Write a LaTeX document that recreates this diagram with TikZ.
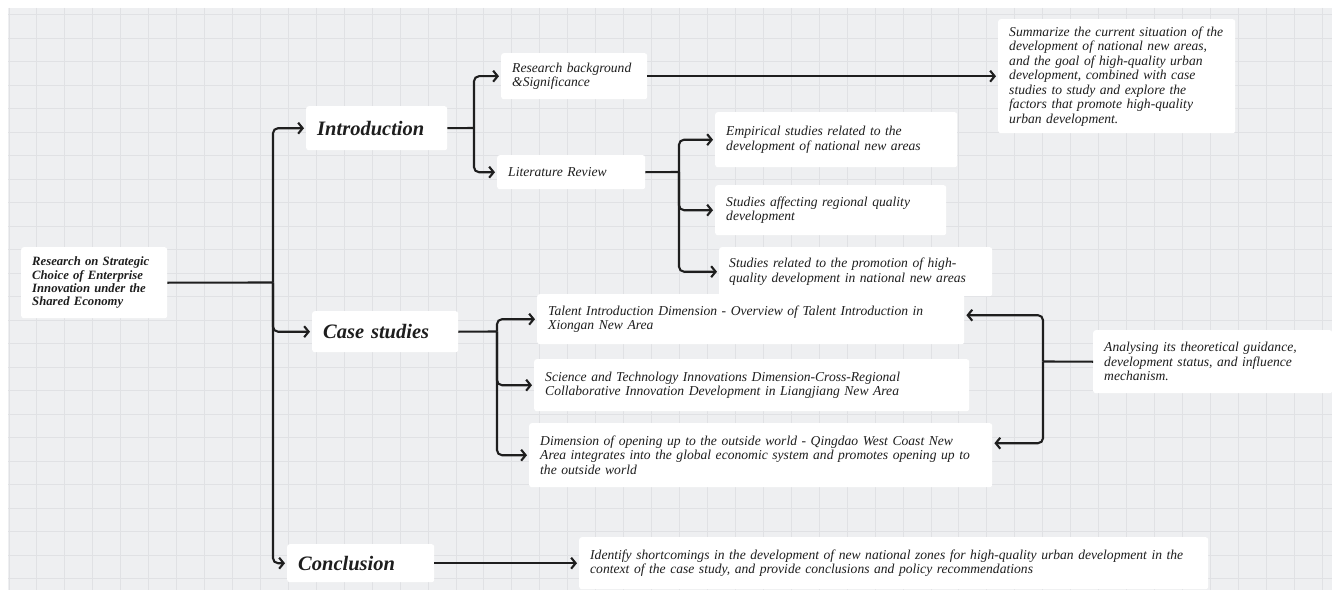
\documentclass[tikz,border=0pt]{standalone}
\usepackage{fontspec}
\setmainfont{Liberation Serif}
\usetikzlibrary{arrows.meta}
\definecolor{bggray}{RGB}{238,239,241}
\definecolor{gridc}{RGB}{224,225,228}
\definecolor{inkc}{RGB}{30,30,30}
\tikzset{
  bx/.style={fill=white, rounded corners=2.5pt, anchor=north west, inner xsep=11pt, inner ysep=0pt,
    align=left, text=inkc, font=\fontsize{13.6}{14.5}\selectfont\itshape},
  mainbx/.style={bx, font=\fontsize{20.5}{22}\selectfont\bfseries\itshape},
  rootbx/.style={bx, font=\fontsize{12.7}{13.3}\selectfont\bfseries\itshape},
  conn/.style={line width=2.1pt, draw=inkc, rounded corners=5pt},
  arr/.style={conn, -{Straight Barb[length=4.5pt,width=11pt]}, shorten >=2pt},
  gridline/.style={draw=gridc, line width=0.6pt}
}
\begin{document}
\begin{tikzpicture}[x=1pt,y=-1pt]
\useasboundingbox (0,0) rectangle (1332,591);
\fill[white] (0,0) rectangle (1332,591);
\fill[bggray] (8,8) rectangle (1332,590);
\foreach \i in {0,...,47} { \draw[gridline] ({8.8+27.94*\i},8) -- ({8.8+27.94*\i},590); }
\foreach \j in {0,...,24} { \draw[gridline] (8,{14.5+23.5*\j}) -- (1332,{14.5+23.5*\j}); }

% boxes
\node[rootbx, minimum height=71pt, text width=124pt] (root) at (21,247)
  {Research on Strategic\\Choice of Enterprise\\Innovation under the\\Shared Economy};
\node[mainbx, minimum height=44pt, text width=119pt] (intro) at (306,106) {Introduction};
\node[mainbx, minimum height=41pt, text width=124pt] (case) at (312,311) {Case studies};
\node[mainbx, minimum height=38pt, text width=125pt] (concl) at (287,544) {Conclusion};

\node[bx, minimum height=46pt, text width=124pt] (rb) at (501,53) {Research background\\\&Significance};
\node[bx, minimum height=34pt, text width=126pt] (lit) at (497,155) {Literature Review};
\node[bx, minimum height=55pt, text width=220pt] (emp) at (715,112)
  {Empirical studies related to the\\development of national new areas};
\node[bx, minimum height=50pt, text width=209pt] (aff) at (715,185)
  {Studies affecting regional quality\\development};
\node[bx, minimum height=49pt, text width=253pt, inner xsep=10pt] (rel) at (719,247)
  {Studies related to the promotion of high-\\quality development in national new areas};
\node[bx, minimum height=114pt, text width=215pt] (summ) at (998,19)
  {Summarize the current situation of the\\development of national new areas,\\and the goal of high-quality urban\\development, combined with case\\studies to study and explore the\\factors that promote high-quality\\urban development.};
\node[bx, minimum height=50pt, text width=405pt] (talent) at (537,294)
  {Talent Introduction Dimension - Overview of Talent Introduction in\\Xiongan New Area};
\node[bx, minimum height=52pt, text width=413pt] (sci) at (534,359)
  {Science and Technology Innovations Dimension-Cross-Regional\\Collaborative Innovation Development in Liangjiang New Area};
\node[bx, minimum height=64pt, text width=441pt] (dim) at (529,423)
  {Dimension of opening up to the outside world - Qingdao West Coast New\\Area integrates into the global economic system and promotes opening up to\\the outside world};
\node[bx, minimum height=63pt, text width=217pt] (anal) at (1093,330)
  {Analysing its theoretical guidance,\\development status, and influence\\mechanism.};
\node[bx, minimum height=52pt, text width=607pt] (ident) at (579,537)
  {Identify shortcomings in the development of new national zones for high-quality urban development in the\\context of the case study, and provide conclusions and policy recommendations};

% connectors
\coordinate (tk) at (273,282.5);
\draw[conn] (root.east) -- (tk);
\draw[arr] (tk) |- (intro.west);
\draw[arr] (tk) |- (case.west);
\draw[arr] (tk) |- (concl.west);

\coordinate (f1) at (474,128);
\draw[conn] (intro.east) -- (f1);
\draw[arr] (f1) |- (rb.west);
\draw[arr] (f1) |- (lit.west);
\draw[arr] (rb.east) -- (rb.east -| summ.west);

\coordinate (f2) at (679,172);
\draw[conn] (lit.east) -- (f2);
\draw[arr] (f2) |- (emp.west);
\draw[arr] (f2) |- (aff.west);
\draw[arr] (f2) |- (rel.west);

\coordinate (f3) at (497,331.5);
\draw[conn] (case.east) -- (f3);
\draw[arr] (f3) |- (talent.west);
\draw[arr] (f3) |- (sci.west);
\draw[arr] (f3) |- (dim.west);

\coordinate (f4) at (1043,361.5);
\draw[conn] (anal.west) -- (f4);
\draw[arr] (f4) |- ([yshift=4pt]talent.east);
\draw[arr] (f4) |- ([yshift=12pt]dim.east);

\draw[arr] (concl.east) -- (ident.west);
\end{tikzpicture}
\end{document}
